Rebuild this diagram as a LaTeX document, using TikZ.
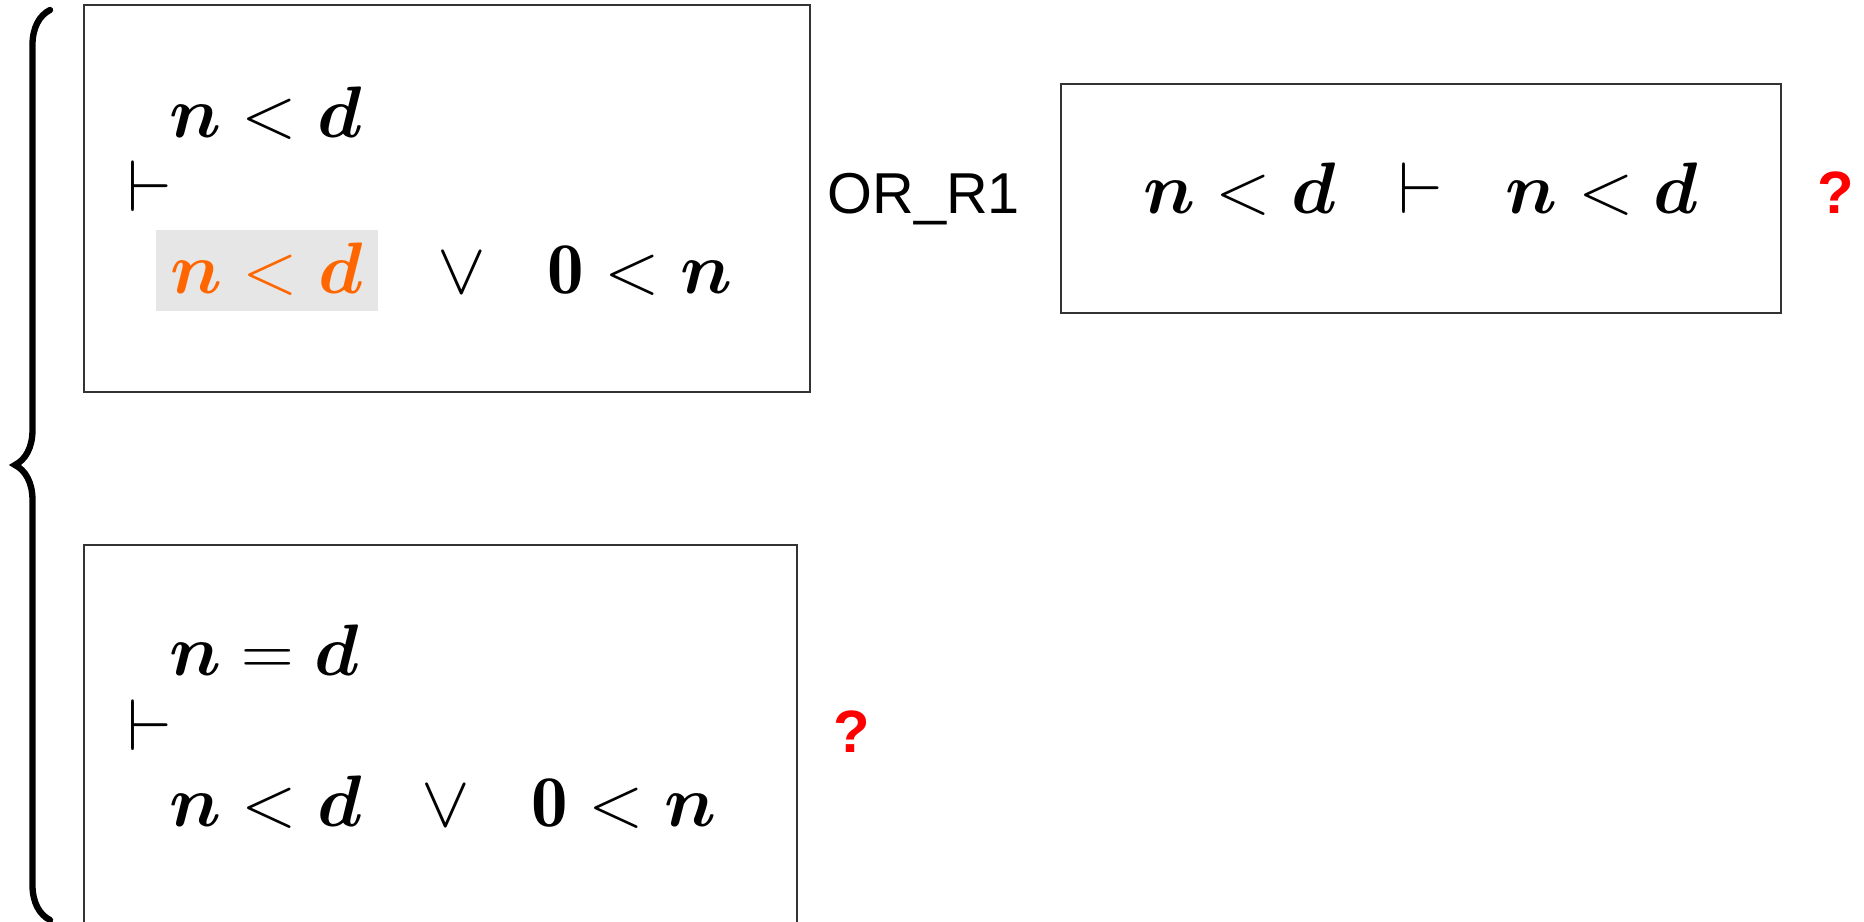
\documentclass[tikz,border=0pt]{standalone}
\usepackage{amsmath, amssymb}
\usepackage{fontspec}
\newfontfamily\labelfont{Liberation Sans}
\usetikzlibrary{positioning, decorations.pathreplacing}
\definecolor{focusorange}{HTML}{FF6600}
\definecolor{focusgray}{HTML}{E6E6E6}
\definecolor{boxline}{HTML}{333333}
\newcommand{\termn}{\boldsymbol{n}}
\newcommand{\termd}{\boldsymbol{d}}

\begin{document}
\begin{tikzpicture}[
		x=0.01cm, y=-0.01cm,
		goalbox/.style={draw=boxline, line width=0.6pt, inner sep=0pt},
		formula/.style={font=\fontsize{20.74}{25}\selectfont, inner sep=0pt},
		focus/.style={fill=focusgray, text=focusorange, inner xsep=0.15cm, inner ysep=0.12cm, text depth=0.06cm},
		rulelabel/.style={font=\labelfont\fontsize{16.4}{20}\selectfont, inner sep=0pt},
		openmark/.style={font=\labelfont\bfseries\fontsize{17}{20}\selectfont, text=red, inner sep=0pt},
		casebrace/.style={decorate, decoration={brace, amplitude=0.35cm}, line width=1.8pt, line cap=round}
		]
		
		\clip (0,0) rectangle (1864,921);
		
		% ==========================================
		% The two cases
		% ==========================================
		\node (goalA) [goalbox, minimum width=7.26cm, minimum height=3.87cm] at (447,198.5) {};
		\node (goalB) [goalbox, minimum width=7.13cm, minimum height=3.87cm] at (440.5,738.5) {};
		
		\draw[casebrace] (50,920) -- (50,10);
		
		% first case: left disjunct in focus
		\node (hypA) [formula, anchor=base west] at (169,137) {$\termn < \termd$};
		\node (turnA) [formula, anchor=base west] at (127,211) {$\vdash$};
		\node (leftA) [formula, focus, anchor=base west] at (155,293) {$\termn < \termd$};
		\node (orA) [formula, base right=0.58cm of leftA] {$\vee$};
		\node (rightA) [formula, base right=0.6cm of orA] {$\mathbf{0} < \termn$};
		
		% second case
		\node (hypB) [formula, anchor=base west] at (169,675) {$\termn = \termd$};
		\node (turnB) [formula, anchor=base west] at (127,750) {$\vdash$};
		\node (leftB) [formula, anchor=base west] at (169,826) {$\termn < \termd$};
		\node (orB) [formula, base right=0.58cm of leftB] {$\vee$};
		\node (rightB) [formula, base right=0.6cm of orB] {$\mathbf{0} < \termn$};
		\node (openB) [openmark, anchor=base west] at (833,752) {?};
		
		% ==========================================
		% Rule applied to the first case
		% ==========================================
		\node (subgoal) [goalbox, formula, minimum height=2.29cm, inner xsep=0.83cm, text depth=0.21cm] at (1421,198.5)
		{$\termn < \termd \hspace{12pt}\vdash\hspace{12pt} \termn < \termd$};
		\node (rule) [rulelabel, base left=0.39cm of subgoal] {OR\_R1};
		\node (openA) [openmark, base right=0.34cm of subgoal] {?};
		
	\end{tikzpicture}
\end{document}
